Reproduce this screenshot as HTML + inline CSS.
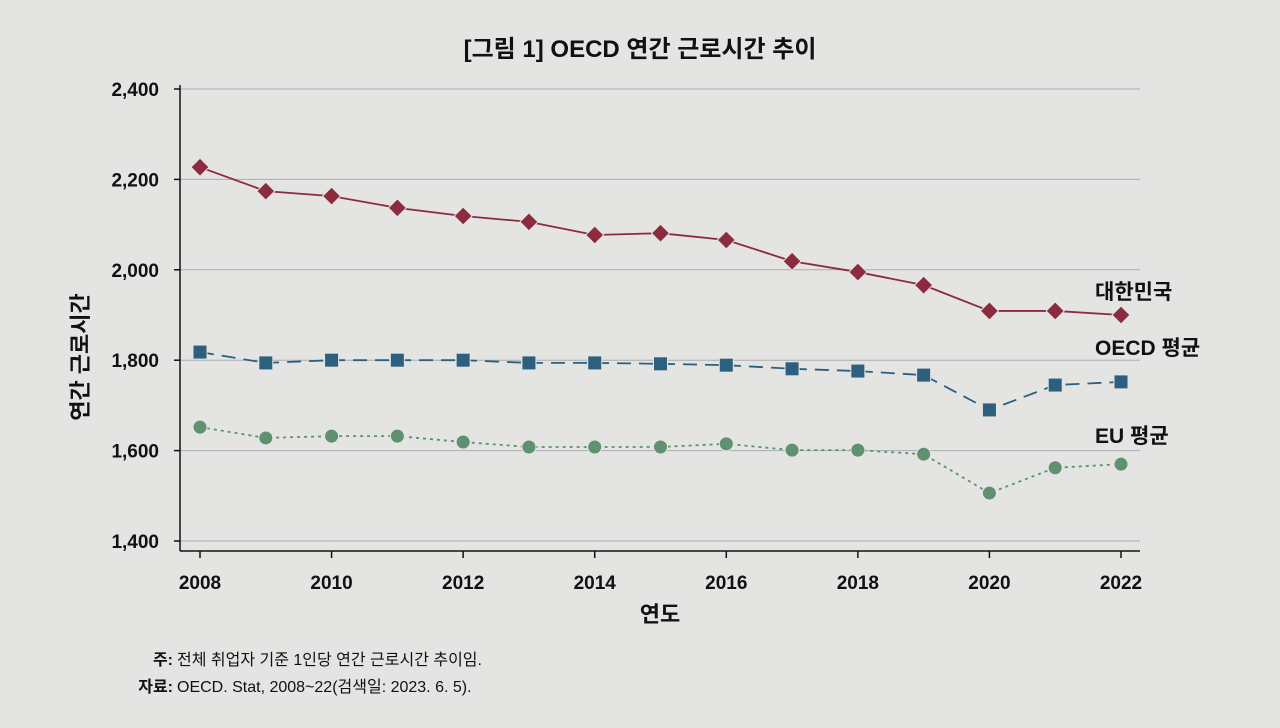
<!DOCTYPE html>
<html><head><meta charset="utf-8">
<style>
html,body{margin:0;padding:0;background:#e4e4e2;}
svg{display:block;font-family:"Liberation Sans","Noto Sans CJK KR",sans-serif;}
</style></head>
<body>
<svg id="chart" width="1280" height="728" viewBox="0 0 1280 728">
<rect width="1280" height="728" fill="#e4e4e2"/>
<text x="640" y="57" text-anchor="middle" font-size="24" font-weight="bold" fill="#111">[그림 1] OECD 연간 근로시간 추이</text>
<g id="grid"></g>
<g id="axes"></g>
<g id="series"></g>
<text transform="translate(88,357) rotate(-90)" text-anchor="middle" font-size="22" font-weight="bold" fill="#111">연간 근로시간</text>
<text x="660" y="622" text-anchor="middle" font-size="22" font-weight="bold" fill="#111">연도</text>
<text x="1095" y="299" font-size="21" font-weight="bold" fill="#111">대한민국</text>
<text x="1095" y="355" font-size="21" font-weight="bold" fill="#111">OECD 평균</text>
<text x="1095" y="443" font-size="21" font-weight="bold" fill="#111">EU 평균</text>
<text x="173" y="665" text-anchor="end" font-size="16" font-weight="bold" fill="#111">주:</text>
<text x="177" y="665" font-size="16" fill="#111">전체 취업자 기준 1인당 연간 근로시간 추이임.</text>
<text x="173" y="692" text-anchor="end" font-size="16" font-weight="bold" fill="#111">자료:</text>
<text x="177" y="692" font-size="16" fill="#111">OECD. Stat, 2008~22(검색일: 2023. 6. 5).</text>
</svg>
<script>
const years=[2008,2009,2010,2011,2012,2013,2014,2015,2016,2017,2018,2019,2020,2021,2022];
const korea=[2227,2174,2163,2137,2119,2106,2077,2081,2066,2019,1995,1966,1909,1909,1900];
const oecd=[1818,1794,1800,1800,1800,1794,1794,1792,1789,1781,1776,1767,1690,1745,1752];
const eu=[1652,1628,1632,1632,1619,1608,1608,1608,1615,1601,1601,1592,1506,1562,1570];
const yTicks=[1400,1600,1800,2000,2200,2400];
const xTicks=[2008,2010,2012,2014,2016,2018,2020,2022];
const NS="http://www.w3.org/2000/svg";
const X=v=>200+(v-2008)*(1121-200)/14;
const Y=v=>541-(v-1400)*(541-89)/1000;
function mk(tag,attrs,parent){const e=document.createElementNS(NS,tag);for(const k in attrs)e.setAttribute(k,attrs[k]);parent.appendChild(e);return e;}
const grid=document.getElementById('grid'),axes=document.getElementById('axes'),ser=document.getElementById('series');
yTicks.forEach(t=>{
  const g=mk('line',{x1:180,x2:1140,y1:Y(t),y2:Y(t),stroke:'#a9adb0','stroke-width':1},grid);
  
  
  const tk=mk('line',{x1:174,x2:180,y1:Y(t),y2:Y(t),stroke:'#111','stroke-width':1.5},axes);
  
  
  const tx=mk('text',{x:159,y:Y(t)+7,'text-anchor':'end','font-size':19,'font-weight':'bold',fill:'#111'},axes);
  tx.textContent=t.toLocaleString('en-US');
  
  
});
const ya=mk('line',{x1:180,x2:180,y1:85,y2:551,stroke:'#111','stroke-width':1.5},axes);


const xa=mk('line',{x1:180,x2:1140,y1:551,y2:551,stroke:'#111','stroke-width':1.5},axes);


xTicks.forEach(t=>{
  const tk=mk('line',{x1:X(t),x2:X(t),y1:551,y2:558,stroke:'#111','stroke-width':1.5},axes);
  
  
  const tx=mk('text',{x:X(t),y:589,'text-anchor':'middle','font-size':19,'font-weight':'bold',fill:'#111'},axes);
  tx.textContent=t;
  
  
});
function series(vals,color,dash,shape,name){
  const g=mk('g',{},ser);
  
  
  const pts=vals.map((v,i)=>X(years[i])+','+Y(v)).join(' ');
  const l=mk('polyline',{points:pts,fill:'none',stroke:color,'stroke-width':1.8,'stroke-dasharray':dash},g);
  
  
  vals.forEach((v,i)=>{
    const x=X(years[i]),y=Y(v);let m;
    if(shape==='d')m=mk('polygon',{points:`${x},${y-9} ${x+9},${y} ${x},${y+9} ${x-9},${y}`,fill:color,stroke:'#e4e4e2','stroke-width':1},g);
    else if(shape==='s')m=mk('rect',{x:x-7,y:y-7,width:14,height:14,fill:color,stroke:'#e4e4e2','stroke-width':1},g);
    else m=mk('circle',{cx:x,cy:y,r:7,fill:color,stroke:'#e4e4e2','stroke-width':1},g);
    
    
  });
}
series(korea,'#8c2a3f','none','d','korea');
series(oecd,'#2d5f7e','14 8','s','oecd');
series(eu,'#5f9070','3 4','c','eu');
</script>
</body></html>
